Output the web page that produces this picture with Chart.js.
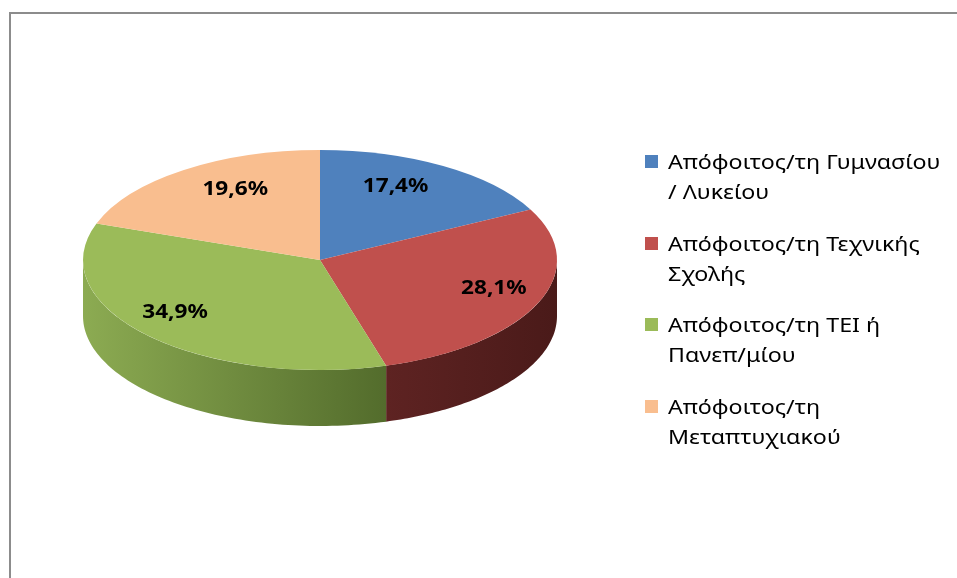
<!DOCTYPE html>
<html><head><meta charset="utf-8">
<script src="https://cdn.jsdelivr.net/npm/chart.js@4/dist/chart.umd.min.js"></script>
<style>
html,body{margin:0;padding:0;background:#fff;}
#wrap{position:relative;width:957px;height:578px;overflow:hidden;background:#fff;}
#frame{position:absolute;left:9px;top:12px;width:1000px;height:700px;border-left:2px solid #8c8c8c;border-top:2px solid #8c8c8c;}
#c{position:absolute;left:0;top:0;}
#legend{position:absolute;left:0;top:0;font-family:"Noto Sans",sans-serif;font-size:20px;color:#000;}
.item{position:absolute;left:645px;line-height:30px;white-space:nowrap;}
.sw{position:absolute;left:0;top:8px;width:13px;height:13px;}
.tx{position:absolute;left:23px;top:0;transform:scaleX(1.16);transform-origin:0 0;}
</style></head>
<body>
<div id="wrap">
  <div id="frame"></div>
  <canvas id="c" width="957" height="578"></canvas>
  <div id="legend"></div>
</div>
<script>
// ---- data ----
const categoryLines = [
  ['Απόφοιτος/τη Γυμνασίου', '/ Λυκείου'],
  ['Απόφοιτος/τη Τεχνικής', 'Σχολής'],
  ['Απόφοιτος/τη ΤΕΙ ή', 'Πανεπ/μίου'],
  ['Απόφοιτος/τη', 'Μεταπτυχιακού']
];
const categories = categoryLines.map(l => l.join(' '));
const values = [17.4, 28.1, 34.9, 19.6];
const valueLabels = values.map(v => v.toFixed(1).replace('.', ',') + '%');
const topColors = ['#4F81BD', '#C0504D', '#9BBB59', '#F9BE8F'];
const sideColors = [['#3A5F8C', '#2E4C70'], ['#5E2322', '#4A1A19'], ['#8CAB52', '#536C2C'], ['#C49470', '#A57B5C']];

// ---- 3D look ----
const TILT = 110 / 237;
const DEPTH = 56;

const pie3d = {
  id: 'pie3d',
  beforeDatasetsDraw(chart) {
    const ctx = chart.ctx;
    const arcs = chart.getDatasetMeta(0).data;
    if (!arcs.length) return;
    const cx = arcs[0].x, cy = arcs[0].y, r = arcs[0].outerRadius;
    const ry = r * TILT;
    arcs.forEach((a, i) => {
      const s = a.startAngle, e = a.endAngle;
      [[0, Math.PI], [2 * Math.PI, 3 * Math.PI], [-2 * Math.PI, -Math.PI]].forEach(([lo, hi]) => {
        const s0 = Math.max(s, lo), e0 = Math.min(e, hi);
        if (e0 <= s0) return;
        const steps = 80;
        const x0 = cx + r * Math.cos(s0), x1 = cx + r * Math.cos(e0);
        const g = ctx.createLinearGradient(Math.min(x0, x1), 0, Math.max(x0, x1), 0);
        g.addColorStop(0, sideColors[i][0]);
        g.addColorStop(1, sideColors[i][1]);
        ctx.save();
        ctx.beginPath();
        for (let k = 0; k <= steps; k++) {
          const t = s0 + (e0 - s0) * k / steps;
          const x = cx + r * Math.cos(t), y = cy + ry * Math.sin(t);
          k ? ctx.lineTo(x, y) : ctx.moveTo(x, y);
        }
        for (let k = steps; k >= 0; k--) {
          const t = s0 + (e0 - s0) * k / steps;
          ctx.lineTo(cx + r * Math.cos(t), cy + ry * Math.sin(t) + DEPTH);
        }
        ctx.closePath();
        ctx.fillStyle = g;
        ctx.fill();
        ctx.restore();
      });
    });
    ctx.save();
    ctx.translate(cx, cy);
    ctx.scale(1, TILT);
    ctx.translate(-cx, -cy);
  },
  afterDatasetsDraw(chart) {
    const ctx = chart.ctx;
    ctx.restore();
    const arcs = chart.getDatasetMeta(0).data;
    ctx.save();
    ctx.font = 'bold 20px "Noto Sans", sans-serif';
    ctx.fillStyle = '#000';
    ctx.textAlign = 'center';
    ctx.textBaseline = 'middle';
    arcs.forEach((a, i) => {
      const m = (a.startAngle + a.endAngle) / 2;
      const f = 0.74;
      const persp = 1 + 0.2 * Math.sin(m);
      const x = a.x + f * a.outerRadius * Math.cos(m) * persp;
      const y = a.y + f * a.outerRadius * TILT * Math.sin(m) - 4;
      ctx.save();
      ctx.translate(x, y);
      ctx.scale(1.13, 1);
      ctx.fillText(valueLabels[i], 0, 0);
      ctx.restore();
    });
    ctx.restore();
  }
};

new Chart(document.getElementById('c'), {
  type: 'pie',
  data: {
    labels: categories,
    datasets: [{ data: values, backgroundColor: topColors, borderWidth: 0, hoverOffset: 0 }]
  },
  options: {
    responsive: false,
    animation: false,
    layout: { padding: { left: 83, right: 400, top: 23, bottom: 81 } },
    plugins: { legend: { display: false }, tooltip: { enabled: false } },
    events: []
  },
  plugins: [pie3d]
});

// HTML legend
const legend = document.getElementById('legend');
categoryLines.forEach((lines, i) => {
  const it = document.createElement('div');
  it.className = 'item';
  it.style.top = (147 + i * 81.5) + 'px';
  const sw = document.createElement('div');
  sw.className = 'sw';
  sw.style.background = topColors[i];
  const tx = document.createElement('div');
  tx.className = 'tx';
  tx.innerHTML = lines.join('<br>');
  it.appendChild(sw); it.appendChild(tx);
  legend.appendChild(it);
});
</script>
</body></html>
